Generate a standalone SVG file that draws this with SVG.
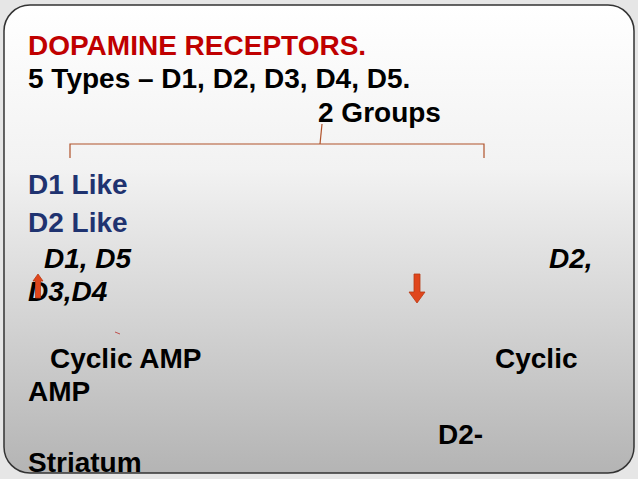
<svg xmlns="http://www.w3.org/2000/svg" width="638" height="479" viewBox="0 0 638 479">
<defs>
<linearGradient id="bg" x1="0" y1="0" x2="0" y2="1">
<stop offset="0" stop-color="#ffffff"/><stop offset="0.35" stop-color="#f2f2f2"/><stop offset="1" stop-color="#b4b4b4"/>
</linearGradient>
<style>
text{font-family:"Liberation Sans",Arial,sans-serif;font-weight:bold;font-size:28px;fill:#000}
.r{fill:#c00000}.b{fill:#1f3370}.i{font-style:italic}
.ar{fill:#e0461c;stroke:#b83a14;stroke-width:0.8}
</style>
</defs>
<rect width="638" height="479" fill="#e6e6e6"/>
<rect x="4" y="5" width="630" height="468" rx="26" fill="url(#bg)" stroke="#333" stroke-width="1.5"/>
<g id="connectors" fill="none" stroke="#b0522a" stroke-width="1.2">
<path d="M70,158 V144 H484 V158"/>
<path d="M320,144 L322,124"/>
</g>
<g id="title"><text x="28" y="55" class="r">DOPAMINE RECEPTORS.</text></g>
<g id="types"><text x="28" y="88">5 Types – D1, D2, D3, D4, D5.</text></g>
<g id="groups"><text x="318" y="122">2 Groups</text></g>
<g id="d1like"><text x="28" y="194" class="b">D1 Like</text></g>
<g id="d2like"><text x="28" y="232" class="b">D2 Like</text></g>
<g id="members">
<text x="44" y="268" class="i">D1, D5</text>
<text x="549" y="268" class="i">D2,</text>
<text x="28" y="301" class="i">D3,D4</text>
</g>
<g id="arrows">
<path class="ar" d="M38,274 L43,281 H40.5 V298 H35.5 V281 H33 Z"/>
<path class="ar" d="M414,274 H420 V292 H425 L417,303 L409,292 H414 Z"/>
<path d="M115,332 L120,334" stroke="#c0504d" stroke-width="1"/>
</g>
<g id="camp">
<text x="50" y="368">Cyclic AMP</text>
<text x="495" y="368">Cyclic</text>
<text x="28" y="401">AMP</text>
<text x="438" y="444">D2-</text>
<text x="28" y="472">Striatum</text>
</g>
</svg>
